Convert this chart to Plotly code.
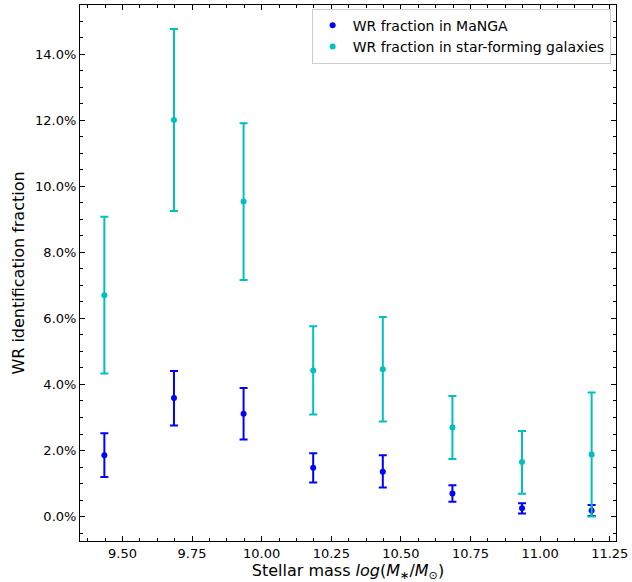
import plotly.graph_objects as go

mass = [9.435, 9.685, 9.935, 10.185, 10.435, 10.685, 10.935, 11.185]

# WR fraction in MaNGA (percent)
manga_frac = [1.86, 3.59, 3.11, 1.48, 1.36, 0.70, 0.25, 0.18]
manga_upper = [2.52, 4.41, 3.89, 1.92, 1.86, 0.95, 0.40, 0.35]
manga_lower = [1.20, 2.76, 2.33, 1.03, 0.88, 0.45, 0.09, 0.02]

# WR fraction in star-forming galaxies (percent)
sf_frac = [6.70, 12.01, 9.54, 4.42, 4.46, 2.70, 1.65, 1.88]
sf_upper = [9.08, 14.76, 11.91, 5.76, 6.04, 3.65, 2.59, 3.76]
sf_lower = [4.33, 9.25, 7.16, 3.09, 2.88, 1.74, 0.69, 0.00]

xticks = [9.50, 9.75, 10.00, 10.25, 10.50, 10.75, 11.00, 11.25]
xtick_labels = ["9.50", "9.75", "10.00", "10.25", "10.50", "10.75", "11.00", "11.25"]
yticks = [0.0, 0.02, 0.04, 0.06, 0.08, 0.10, 0.12, 0.14]
ytick_labels = ["0.0%", "2.0%", "4.0%", "6.0%", "8.0%", "10.0%", "12.0%", "14.0%"]

def series(name, frac, up, lo, color):
    y = [v / 100 for v in frac]
    eu = [(u - v) / 100 for u, v in zip(up, frac)]
    el = [(v - l) / 100 for v, l in zip(frac, lo)]
    return go.Scatter(
        x=mass, y=y, mode="markers", name=name,
        marker=dict(color=color, size=6),
        error_y=dict(type="data", symmetric=False, array=eu, arrayminus=el,
                     color=color, thickness=2, width=4),
    )

fig = go.Figure()
fig.add_trace(series("WR fraction in MaNGA", manga_frac, manga_upper, manga_lower, "#0000ff"))
fig.add_trace(series("WR fraction in star-forming galaxies", sf_frac, sf_upper, sf_lower, "#00bfbf"))

axis_common = dict(
    showgrid=False, zeroline=False, showline=True, linecolor="black", linewidth=1,
    mirror="allticks", ticks="inside", ticklen=5, tickcolor="black",
    tickfont=dict(size=13, color="black"),
)

fig.update_xaxes(
    range=[9.3475, 11.2725], tickvals=xticks, ticktext=xtick_labels,
    minor=dict(ticks="inside", dtick=0.0625, tick0=9.5, ticklen=3, tickcolor="black"),
    title=dict(text="Stellar mass <i>log</i>(<i>M</i><sub>∗</sub>/<i>M</i><sub>⊙</sub>)",
               font=dict(size=16, color="black"), standoff=4),
    **axis_common,
)
fig.update_yaxes(
    range=[-0.0074, 0.1549], tickvals=yticks, ticktext=ytick_labels,
    minor=dict(ticks="inside", dtick=0.005, tick0=0, ticklen=3, tickcolor="black"),
    title=dict(text="WR identification fraction", font=dict(size=16, color="black"), standoff=6),
    **axis_common,
)

fig.update_layout(
    width=632, height=582,
    margin=dict(l=80, r=14, t=4, b=41),
    paper_bgcolor="white", plot_bgcolor="white",
    font=dict(family="DejaVu Sans", color="black"),
    legend=dict(x=0.99, y=0.993, xanchor="right", yanchor="top",
                bgcolor="rgba(255,255,255,0.8)", bordercolor="#cccccc", borderwidth=1,
                font=dict(size=14), tracegroupgap=0),
    showlegend=True,
)

fig.write_html("out.html", config={"displayModeBar": False},
               post_script="document.body.style.margin='0';document.body.style.overflow='hidden';")
